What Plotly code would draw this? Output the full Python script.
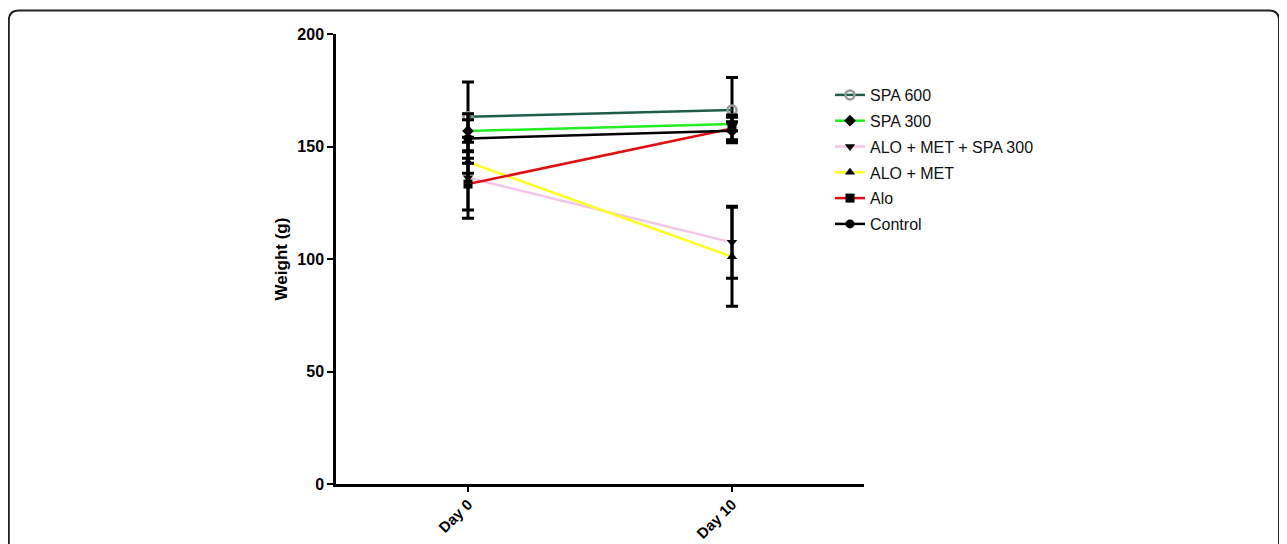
import plotly.graph_objects as go

days = ["Day 0", "Day 10"]
day_pos = [0, 1]

series_names = ["SPA 600", "SPA 300", "ALO + MET + SPA 300", "ALO + MET", "Alo", "Control"]
spa600 = [163.2, 166.2]
spa600_err = [15.5, 14.5]
spa300 = [156.9, 160.0]
spa300_err = [5.0, 3.0]
alo_met_spa300 = [136.1, 107.4]
alo_met_spa300_err = [18.0, 16.0]
alo_met = [143.1, 101.0]
alo_met_err = [5.0, 22.0]
alo = [133.3, 158.0]
alo_err = [11.5, 6.0]
control = [153.6, 157.0]
control_err = [11.0, 4.0]

values = [spa600, spa300, alo_met_spa300, alo_met, alo, control]
errors = [spa600_err, spa300_err, alo_met_spa300_err, alo_met_err, alo_err, control_err]
line_colors = ["#1c5e48", "#22ee22", "#f2c4e6", "#ffff22", "#e01010", "#000000"]
marker_symbols = ["circle-open", "diamond", "triangle-down", "triangle-up", "square", "circle"]
marker_colors = ["#9a9a9a", "#000000", "#000000", "#000000", "#000000", "#000000"]

fig = go.Figure()
for name, v, e, lc, ms, mc in zip(series_names, values, errors, line_colors, marker_symbols, marker_colors):
    fig.add_trace(go.Scatter(
        x=day_pos, y=v, name=name, mode="lines+markers", legendgroup=name,
        line=dict(color=lc, width=2.5),
        marker=dict(symbol=ms, color=mc, size=9,
                    line=dict(color=mc, width=2.5 if ms == "circle-open" else 0)),
        error_y=dict(type="data", array=e, visible=True, color="#000000",
                     thickness=3, width=6),
    ))

# figure is placed 8px in from the page corner (body margin)
W, H = 1279, 536
pl, pr, pt, pb = 328, 423, 26, 60
pw, ph = W - pl - pr, H - pt - pb

def px2paper(x, y):
    return (x - pl) / pw, 1 - (y - pt) / ph

L, T = px2paper(0.8, 2.5)
R, B = px2paper(1271, 560)
rx, ry = 10 / pw, 10 / ph
path = (f"M {L} {B} L {L} {T - ry} Q {L} {T} {L + rx} {T} "
        f"L {R - rx} {T} Q {R} {T} {R} {T - ry} L {R} {B}")
fig.add_shape(type="path", path=path, xref="paper", yref="paper",
              line=dict(color="#222222", width=2))

lx, ly = px2paper(822, 70)

font_family = "Liberation Sans, Arial, sans-serif"
fig.update_layout(
    width=W, height=H,
    margin=dict(l=pl, r=pr, t=pt, b=pb),
    paper_bgcolor="white", plot_bgcolor="white",
    font=dict(family=font_family, color="#000000"),
    showlegend=True,
    legend=dict(x=lx, y=ly, xanchor="left", yanchor="top",
                font=dict(size=16, family=font_family, color="#111111"),
                bgcolor="rgba(0,0,0,0)", tracegroupgap=2, itemwidth=30),
    xaxis=dict(range=[-0.5, 1.5], tickvals=day_pos, ticktext=days, tickangle=-45,
               showline=True, linecolor="#000000", linewidth=2.5,
               ticks="outside", ticklen=5, tickwidth=2, tickcolor="#000000",
               showgrid=False, zeroline=False, automargin=False,
               ticklabelstandoff=-2,
               tickfont=dict(size=15, family=font_family, color="#000000", weight="bold")),
    yaxis=dict(range=[0, 200], tickvals=[0, 50, 100, 150, 200],
               showline=True, linecolor="#000000", linewidth=2.5,
               ticks="outside", ticklen=6, tickwidth=2, tickcolor="#000000",
               showgrid=False, zeroline=False, automargin=False,
               tickfont=dict(size=16, family=font_family, color="#000000", weight="bold"),
               title=dict(text="Weight (g)", standoff=6,
                          font=dict(size=17, family=font_family, color="#000000", weight="bold"))),
)

fig.write_html("out.html")
